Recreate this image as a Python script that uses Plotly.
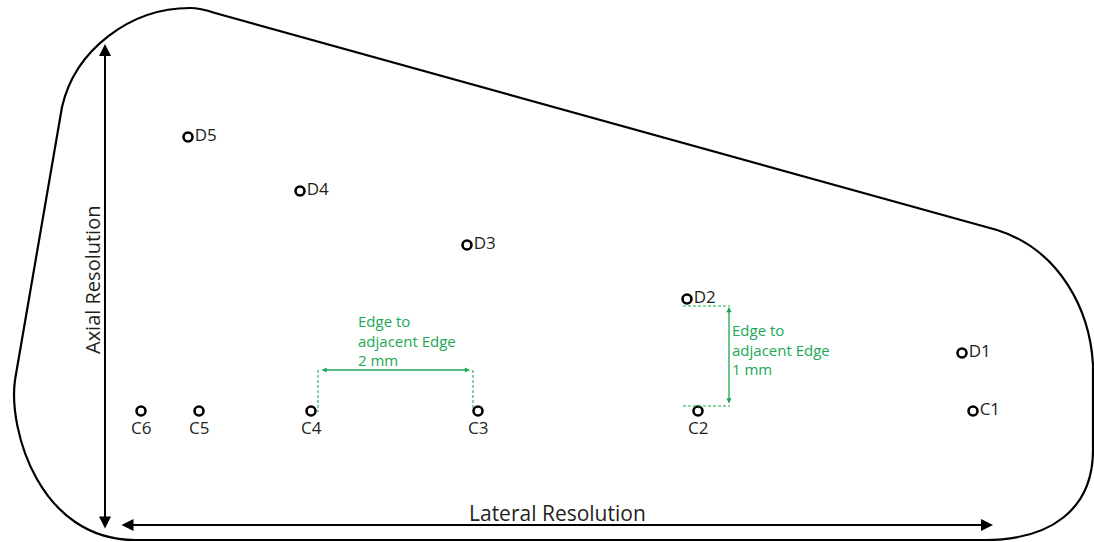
import plotly.graph_objects as go

# Target positions (diagram units = pixels of the drawing)
d_names = ["D1", "D2", "D3", "D4", "D5"]
d_x = [962, 687, 467, 300, 188]
d_y = [353, 299, 245, 191, 137]

c_names = ["C1", "C2", "C3", "C4", "C5", "C6"]
c_x = [973, 698, 478, 311, 199, 141]
c_y = [411, 411, 411, 411, 411, 411]

outline_path = ("M 62,107 C 75,50 130,8 190,8 C 200,8 206,10 215,13 L 997,230 "
                "C 1060,250 1090,310 1093,365 L 1093,450 "
                "C 1093,510 1050,540 985,540 L 135,540 "
                "C 40,540 8,430 15,380 Z")

green = "#1aa856"
txt = "#231f20"
font = "Open Sans"

fig = go.Figure()

mk = dict(symbol="circle-open", size=9, color="black", line=dict(width=2.6))
tf = dict(family=font, size=17, color=txt)

fig.add_trace(go.Scatter(
    x=d_x, y=d_y, mode="markers+text", text=d_names, textposition="middle right",
    marker=mk, textfont=tf, showlegend=False, hoverinfo="skip"))
fig.add_trace(go.Scatter(
    x=c_x[:1], y=c_y[:1], mode="markers+text", text=c_names[:1], textposition="middle right",
    marker=mk, textfont=tf, showlegend=False, hoverinfo="skip"))
fig.add_trace(go.Scatter(
    x=c_x[1:], y=c_y[1:], mode="markers",
    marker=mk, showlegend=False, hoverinfo="skip"))

dash = "3px,2px"
shapes = [
    dict(type="path", path=outline_path, xref="x", yref="y",
         line=dict(color="black", width=2.2), fillcolor="rgba(0,0,0,0)", layer="below"),
    dict(type="line", x0=318, x1=318, y0=370, y1=412, xref="x", yref="y",
         line=dict(color=green, width=1.1, dash=dash)),
    dict(type="line", x0=473, x1=473, y0=370, y1=410, xref="x", yref="y",
         line=dict(color=green, width=1.1, dash=dash)),
    dict(type="line", x0=683, x1=730, y0=306, y1=306, xref="x", yref="y",
         line=dict(color=green, width=1.1, dash=dash)),
    dict(type="line", x0=683, x1=730, y0=406, y1=406, xref="x", yref="y",
         line=dict(color=green, width=1.1, dash=dash)),
]

annotations = [
    dict(x=cx, y=cy, xref="x", yref="y", text=cn, showarrow=False,
         yshift=-16, font=tf)
    for cn, cx, cy in zip(c_names[1:], c_x[1:], c_y[1:])
] + [
    dict(x=105, y=44, ax=105, ay=530, xref="x", yref="y", axref="x", ayref="y",
         showarrow=True, arrowhead=2, startarrowhead=2, arrowside="end+start",
         arrowsize=1.2, startarrowsize=1.2, arrowwidth=2, arrowcolor="black", text=""),
    dict(x=993, y=525, ax=120, ay=525, xref="x", yref="y", axref="x", ayref="y",
         showarrow=True, arrowhead=2, startarrowhead=2, arrowside="end+start",
         arrowsize=1.2, startarrowsize=1.2, arrowwidth=2, arrowcolor="black", text=""),
    dict(x=92, y=280, xref="x", yref="y", text="Axial Resolution", showarrow=False,
         textangle=-90, font=dict(family=font, size=20, color=txt)),
    dict(x=557, y=513, xref="x", yref="y", text="Lateral Resolution", showarrow=False,
         font=dict(family=font, size=21, color=txt)),
    dict(x=470, y=370, ax=320, ay=370, xref="x", yref="y", axref="x", ayref="y",
         showarrow=True, arrowhead=2, startarrowhead=2, arrowside="end+start",
         arrowsize=0.8, startarrowsize=0.8, arrowwidth=1.3, arrowcolor=green, text=""),
    dict(x=729, y=307, ax=729, ay=405, xref="x", yref="y", axref="x", ayref="y",
         showarrow=True, arrowhead=2, startarrowhead=2, arrowside="end+start",
         arrowsize=0.8, startarrowsize=0.8, arrowwidth=1.3, arrowcolor=green, text=""),
    dict(x=356, y=340, xref="x", yref="y", text="Edge to<br>adjacent Edge<br>2 mm",
         showarrow=False, xanchor="left", align="left",
         font=dict(family=font, size=15, color=green)),
    dict(x=730, y=349, xref="x", yref="y", text="Edge to<br>adjacent Edge<br>1 mm",
         showarrow=False, xanchor="left", align="left",
         font=dict(family=font, size=15, color=green)),
]

fig.update_layout(
    width=1094, height=542, margin=dict(l=0, r=0, t=0, b=0),
    paper_bgcolor="white", plot_bgcolor="white",
    xaxis=dict(range=[0, 1094], visible=False, fixedrange=True),
    yaxis=dict(range=[542, 0], visible=False, fixedrange=True),
    shapes=shapes, annotations=annotations, showlegend=False)

fig.write_html("out.html", config={"displayModeBar": False},
               post_script="document.body.style.margin='0px';document.body.style.overflow='hidden';")
